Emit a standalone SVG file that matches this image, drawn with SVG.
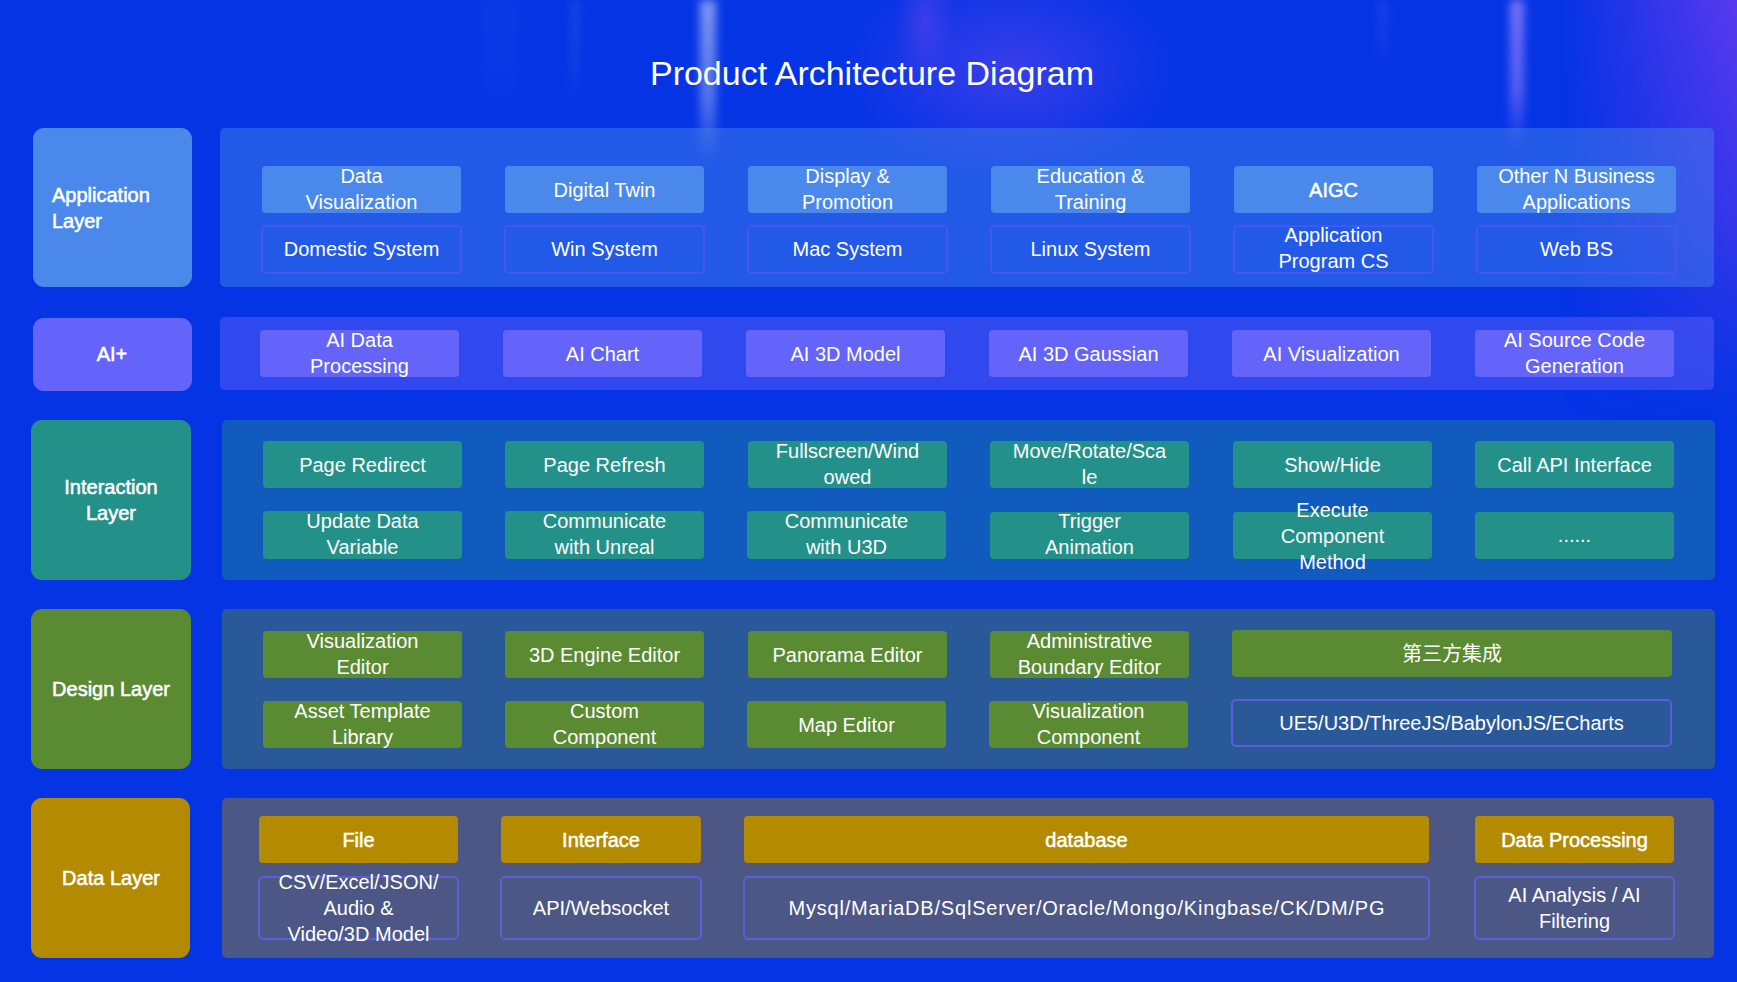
<svg xmlns="http://www.w3.org/2000/svg" width="1737" height="982" viewBox="0 0 1737 982">
  <style>
    text { font-family: "Liberation Sans", Arial, sans-serif; fill: #ffffff; }
    .title { font-size: 34px; }
    .lbl { font-size: 20px; stroke: #ffffff; stroke-width: 0.55px; }
    .it { font-size: 20px; text-anchor: middle; }
    .hd { font-size: 20px; text-anchor: middle; stroke: #ffffff; stroke-width: 0.5px; }
    .cjk { font-family: "Liberation Sans", "Noto Sans CJK SC", sans-serif; }
    .c { text-anchor: middle; }
    .panel { rx: 5px; ry: 5px; }
    .tag { rx: 11px; ry: 11px; }
    .box { rx: 4px; ry: 4px; }
    .app { fill: #4a89eb; }
    .app-p { fill: #4a89eb; fill-opacity: 0.44; }
    .app-o { fill: none; stroke: #4558ee; stroke-width: 2; }
    .ai { fill: #6464fb; }
    .ai-p { fill: #6464fb; fill-opacity: 0.45; }
    .ia { fill: #24908a; }
    .ia-p { fill: #24908a; fill-opacity: 0.42; }
    .ds { fill: #5a8a32; }
    .ds-p { fill: #5a8a32; fill-opacity: 0.43; }
    .dt { fill: #b48a00; }
    .dt-p { fill: #b48a00; fill-opacity: 0.41; }
    .out { fill: none; stroke: #5a5fd8; stroke-width: 2; }
  </style>
  <defs>
    <linearGradient id="beamFade" x1="0" y1="0" x2="0" y2="1">
      <stop offset="0" stop-color="#ffffff" stop-opacity="0.5"/>
      <stop offset="0.6" stop-color="#ffffff" stop-opacity="0.32"/>
      <stop offset="1" stop-color="#ffffff" stop-opacity="0"/>
    </linearGradient>
    <linearGradient id="beamViolet" x1="0" y1="0" x2="0" y2="1">
      <stop offset="0" stop-color="#b090ff" stop-opacity="0.7"/>
      <stop offset="0.6" stop-color="#a080ff" stop-opacity="0.55"/>
      <stop offset="1" stop-color="#a080ff" stop-opacity="0"/>
    </linearGradient>
    <radialGradient id="glowMid" cx="0.5" cy="0.5" r="0.5">
      <stop offset="0" stop-color="#6a45f0" stop-opacity="0.75"/>
      <stop offset="1" stop-color="#6a45f0" stop-opacity="0"/>
    </radialGradient>
    <linearGradient id="glowRight" x1="0" y1="0" x2="1" y2="0">
      <stop offset="0" stop-color="#6a3af0" stop-opacity="0"/>
      <stop offset="1" stop-color="#6a3af0" stop-opacity="0.85"/>
    </linearGradient>
    <linearGradient id="glowRightFade" x1="0" y1="0" x2="0" y2="1">
      <stop offset="0" stop-color="#fff" stop-opacity="1"/>
      <stop offset="0.5" stop-color="#fff" stop-opacity="0.6"/>
      <stop offset="1" stop-color="#fff" stop-opacity="0"/>
    </linearGradient>
    <mask id="rightMask">
      <rect x="1560" y="0" width="177" height="420" fill="url(#glowRightFade)"/>
    </mask>
    <filter id="soft" x="-2" y="-0.2" width="5" height="1.4">
      <feGaussianBlur stdDeviation="5"/>
    </filter>
  </defs>

  <!-- backdrop -->
  <rect x="0" y="0" width="1737" height="982" fill="#0434e4"/>
  <g id="backdrop-lights">
    <ellipse cx="1010" cy="70" rx="170" ry="110" fill="url(#glowMid)" opacity="0.7"/>
    <ellipse cx="925" cy="20" rx="30" ry="70" fill="url(#glowMid)" opacity="0.6"/>
    <rect x="1560" y="0" width="177" height="420" fill="url(#glowRight)" mask="url(#rightMask)"/>
    <rect x="700" y="0" width="16" height="165" fill="url(#beamFade)" filter="url(#soft)"/>
    <rect x="1510" y="0" width="14" height="150" fill="url(#beamViolet)" filter="url(#soft)"/>
    <rect x="571" y="0" width="8" height="110" fill="url(#beamFade)" opacity="0.2" filter="url(#soft)"/>
    <rect x="480" y="0" width="40" height="120" fill="url(#beamFade)" opacity="0.06" filter="url(#soft)"/>
    <rect x="1378" y="0" width="10" height="70" fill="url(#beamViolet)" opacity="0.2" filter="url(#soft)"/>
  </g>

  <text class="title" x="872" y="85" text-anchor="middle">Product Architecture Diagram</text>

  <!-- Application layer -->
  <g id="application-layer">
    <rect class="app tag" x="33" y="128" width="159" height="159"/>
    <text class="lbl" x="52" y="202">Application</text>
    <text class="lbl" x="52" y="228">Layer</text>
    <rect class="app-p panel" x="220" y="128" width="1494" height="159"/>
    <g id="app-data-visualization"><rect class="app box" x="262" y="166" width="199" height="47"/><text class="it" x="361.5" y="183">Data</text><text class="it" x="361.5" y="209">Visualization</text></g>
    <g id="app-digital-twin"><rect class="app box" x="505" y="166" width="199" height="47"/><text class="it" x="604.5" y="197">Digital Twin</text></g>
    <g id="app-display"><rect class="app box" x="748" y="166" width="199" height="47"/><text class="it" x="847.5" y="183">Display &amp;</text><text class="it" x="847.5" y="209">Promotion</text></g>
    <g id="app-education"><rect class="app box" x="991" y="166" width="199" height="47"/><text class="it" x="1090.5" y="183">Education &amp;</text><text class="it" x="1090.5" y="209">Training</text></g>
    <g id="app-aigc"><rect class="app box" x="1234" y="166" width="199" height="47"/><text class="hd" x="1333.5" y="197">AIGC</text></g>
    <g id="app-other"><rect class="app box" x="1477" y="166" width="199" height="47"/><text class="it" x="1576.5" y="183">Other N Business</text><text class="it" x="1576.5" y="209">Applications</text></g>
    <g id="app-domestic"><rect class="app-o box" x="262" y="226" width="199" height="47"/><text class="it" x="361.5" y="256">Domestic System</text></g>
    <g id="app-win"><rect class="app-o box" x="505" y="226" width="199" height="47"/><text class="it" x="604.5" y="256">Win System</text></g>
    <g id="app-mac"><rect class="app-o box" x="748" y="226" width="199" height="47"/><text class="it" x="847.5" y="256">Mac System</text></g>
    <g id="app-linux"><rect class="app-o box" x="991" y="226" width="199" height="47"/><text class="it" x="1090.5" y="256">Linux System</text></g>
    <g id="app-cs"><rect class="app-o box" x="1234" y="226" width="199" height="47"/><text class="it" x="1333.5" y="242">Application</text><text class="it" x="1333.5" y="268">Program CS</text></g>
    <g id="app-bs"><rect class="app-o box" x="1477" y="226" width="199" height="47"/><text class="it" x="1576.5" y="256">Web BS</text></g>
  </g>

  <!-- AI+ layer -->
  <g id="ai-layer">
    <rect class="ai tag" x="33" y="318" width="159" height="73"/>
    <text class="lbl c" x="112" y="361">AI+</text>
    <rect class="ai-p panel" x="220" y="317" width="1494" height="73"/>
    <g id="ai-data"><rect class="ai box" x="260" y="330" width="199" height="47"/><text class="it" x="359.5" y="347">AI Data</text><text class="it" x="359.5" y="373">Processing</text></g>
    <g id="ai-chart"><rect class="ai box" x="503" y="330" width="199" height="47"/><text class="it" x="602.5" y="361">AI Chart</text></g>
    <g id="ai-3d-model"><rect class="ai box" x="746" y="330" width="199" height="47"/><text class="it" x="845.5" y="361">AI 3D Model</text></g>
    <g id="ai-3d-gaussian"><rect class="ai box" x="989" y="330" width="199" height="47"/><text class="it" x="1088.5" y="361">AI 3D Gaussian</text></g>
    <g id="ai-visualization"><rect class="ai box" x="1232" y="330" width="199" height="47"/><text class="it" x="1331.5" y="361">AI Visualization</text></g>
    <g id="ai-source"><rect class="ai box" x="1475" y="330" width="199" height="47"/><text class="it" x="1574.5" y="347">AI Source Code</text><text class="it" x="1574.5" y="373">Generation</text></g>
  </g>

  <!-- Interaction layer -->
  <g id="interaction-layer">
    <rect class="ia tag" x="31" y="420" width="160" height="160"/>
    <text class="lbl c" x="111" y="494">Interaction</text>
    <text class="lbl c" x="111" y="520">Layer</text>
    <rect class="ia-p panel" x="222" y="420" width="1493" height="160"/>
    <g id="ia-redirect"><rect class="ia box" x="263" y="441" width="199" height="47"/><text class="it" x="362.5" y="472">Page Redirect</text></g>
    <g id="ia-refresh"><rect class="ia box" x="505" y="441" width="199" height="47"/><text class="it" x="604.5" y="472">Page Refresh</text></g>
    <g id="ia-fullscreen"><rect class="ia box" x="748" y="441" width="199" height="47"/><text class="it" x="847.5" y="458">Fullscreen/Wind</text><text class="it" x="847.5" y="484">owed</text></g>
    <g id="ia-move"><rect class="ia box" x="990" y="441" width="199" height="47"/><text class="it" x="1089.5" y="458">Move/Rotate/Sca</text><text class="it" x="1089.5" y="484">le</text></g>
    <g id="ia-show"><rect class="ia box" x="1233" y="441" width="199" height="47"/><text class="it" x="1332.5" y="472">Show/Hide</text></g>
    <g id="ia-api"><rect class="ia box" x="1475" y="441" width="199" height="47"/><text class="it" x="1574.5" y="472">Call API Interface</text></g>
    <g id="ia-update"><rect class="ia box" x="263" y="511" width="199" height="48"/><text class="it" x="362.5" y="528">Update Data</text><text class="it" x="362.5" y="554">Variable</text></g>
    <g id="ia-unreal"><rect class="ia box" x="505" y="511" width="199" height="48"/><text class="it" x="604.5" y="528">Communicate</text><text class="it" x="604.5" y="554">with Unreal</text></g>
    <g id="ia-u3d"><rect class="ia box" x="747" y="511" width="199" height="48"/><text class="it" x="846.5" y="528">Communicate</text><text class="it" x="846.5" y="554">with U3D</text></g>
    <g id="ia-trigger"><rect class="ia box" x="990" y="512" width="199" height="47"/><text class="it" x="1089.5" y="528">Trigger</text><text class="it" x="1089.5" y="554">Animation</text></g>
    <g id="ia-execute"><rect class="ia box" x="1233" y="512" width="199" height="47"/><text class="it" x="1332.5" y="517">Execute</text><text class="it" x="1332.5" y="543">Component</text><text class="it" x="1332.5" y="569">Method</text></g>
    <g id="ia-more"><rect class="ia box" x="1475" y="512" width="199" height="47"/><text class="it" x="1574.5" y="542">......</text></g>
  </g>

  <!-- Design layer -->
  <g id="design-layer">
    <rect class="ds tag" x="31" y="609" width="160" height="160"/>
    <text class="lbl c" x="111" y="696">Design Layer</text>
    <rect class="ds-p panel" x="222" y="609" width="1493" height="160"/>
    <g id="ds-vis-editor"><rect class="ds box" x="263" y="631" width="199" height="47"/><text class="it" x="362.5" y="648">Visualization</text><text class="it" x="362.5" y="674">Editor</text></g>
    <g id="ds-3d-engine"><rect class="ds box" x="505" y="631" width="199" height="47"/><text class="it" x="604.5" y="662">3D Engine Editor</text></g>
    <g id="ds-panorama"><rect class="ds box" x="748" y="631" width="199" height="47"/><text class="it" x="847.5" y="662">Panorama Editor</text></g>
    <g id="ds-boundary"><rect class="ds box" x="990" y="631" width="199" height="47"/><text class="it" x="1089.5" y="648">Administrative</text><text class="it" x="1089.5" y="674">Boundary Editor</text></g>
    <g id="ds-third-party"><rect class="ds box" x="1232" y="630" width="440" height="47"/><text class="it cjk" x="1452" y="661">第三方集成</text></g>
    <g id="ds-asset"><rect class="ds box" x="263" y="701" width="199" height="47"/><text class="it" x="362.5" y="718">Asset Template</text><text class="it" x="362.5" y="744">Library</text></g>
    <g id="ds-custom"><rect class="ds box" x="505" y="701" width="199" height="47"/><text class="it" x="604.5" y="718">Custom</text><text class="it" x="604.5" y="744">Component</text></g>
    <g id="ds-map"><rect class="ds box" x="747" y="701" width="199" height="47"/><text class="it" x="846.5" y="732">Map Editor</text></g>
    <g id="ds-vis-component"><rect class="ds box" x="989" y="701" width="199" height="47"/><text class="it" x="1088.5" y="718">Visualization</text><text class="it" x="1088.5" y="744">Component</text></g>
    <g id="ds-engines"><rect class="out box" x="1232" y="700" width="439" height="46"/><text class="it" x="1451.5" y="730">UE5/U3D/ThreeJS/BabylonJS/ECharts</text></g>
  </g>

  <!-- Data layer -->
  <g id="data-layer">
    <rect class="dt tag" x="31" y="798" width="159" height="160"/>
    <text class="lbl c" x="111" y="885">Data Layer</text>
    <rect class="dt-p panel" x="222" y="798" width="1492" height="160"/>
    <g id="dt-file"><rect class="dt box" x="259" y="816" width="199" height="47"/><text class="hd" x="358.5" y="847">File</text></g>
    <g id="dt-interface"><rect class="dt box" x="501" y="816" width="200" height="47"/><text class="hd" x="601" y="847">Interface</text></g>
    <g id="dt-database"><rect class="dt box" x="744" y="816" width="685" height="47"/><text class="hd" x="1086.5" y="847">database</text></g>
    <g id="dt-processing"><rect class="dt box" x="1475" y="816" width="199" height="47"/><text class="hd" x="1574.5" y="847">Data Processing</text></g>
    <g id="dt-formats"><rect class="out box" x="259" y="877" width="199" height="62"/><text class="it" x="358.5" y="889">CSV/Excel/JSON/</text><text class="it" x="358.5" y="915">Audio &amp;</text><text class="it" x="358.5" y="941">Video/3D Model</text></g>
    <g id="dt-api"><rect class="out box" x="501" y="877" width="200" height="62"/><text class="it" x="601" y="915">API/Websocket</text></g>
    <g id="dt-engines"><rect class="out box" x="744" y="877" width="685" height="62"/><text class="it" x="1086.5" y="915" textLength="596" lengthAdjust="spacing">Mysql/MariaDB/SqlServer/Oracle/Mongo/Kingbase/CK/DM/PG</text></g>
    <g id="dt-ai"><rect class="out box" x="1475" y="877" width="199" height="62"/><text class="it" x="1574.5" y="902">AI Analysis / AI</text><text class="it" x="1574.5" y="928">Filtering</text></g>
  </g>

  <!-- this diagram has no connectors -->
  <g id="connectors"/>
</svg>
